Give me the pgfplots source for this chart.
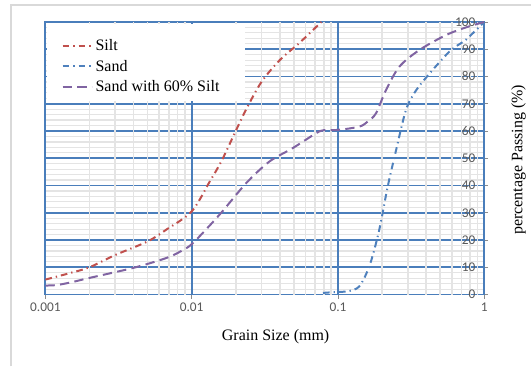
\documentclass[border=0pt]{standalone}
\usepackage{pgfplots}
\pgfplotsset{compat=1.18}
\usepackage{fontspec}
\setmainfont{Liberation Serif}
\newfontfamily\calib{Carlito}
\definecolor{gblue}{HTML}{4A7EBB}
\definecolor{silt}{HTML}{C0504D}
\definecolor{sand}{HTML}{4F81BD}
\definecolor{mix}{HTML}{8064A2}
\definecolor{mgray}{HTML}{E4E4E4}
\definecolor{tgray}{HTML}{595959}
\definecolor{fgray}{HTML}{D9D9D9}
\begin{document}
\begin{tikzpicture}
\path (-34.125pt,-54pt) rectangle (364.875pt,221.25pt);
\draw[fgray, line width=1.2pt] (-25.875pt,-54pt) -- (-25.875pt,217.5pt) -- (364.875pt,217.5pt);
\begin{axis}[
  clip mode=individual,
  at={(0,0)}, anchor=south west,
  scale only axis, width=329.6pt, height=204.75pt,
  xmode=log, xmin=0.001, xmax=1, ymin=0, ymax=100,
  xtick={0.001,0.01,0.1,1}, xticklabels={0.001,0.01,0.1,1},
  ytick={0,10,...,100},
  minor ytick={2,4,6,8,12,14,16,18,22,24,26,28,32,34,36,38,42,44,46,48,52,54,56,58,62,64,66,68,72,74,76,78,82,84,86,88,92,94,96,98},
  yticklabels={},
  ymajorgrids, yminorgrids,
  major grid style={gblue, line width=1.4pt},
  minor grid style={mgray, line width=0.9pt},
  minor tick length=0pt,
  major tick length=3pt,
  tick align=outside,
  xtick pos=bottom, ytick pos=right, yticklabel pos=right,
  tick style={tgray!70, line width=0.6pt},
  axis line style={gblue, line width=1.4pt},
  xticklabel style={font=\calib\fontsize{10}{12}\selectfont, text=tgray},
  xlabel={Grain Size (mm)},
  xlabel style={at={(axis description cs:0.5245,0)}, anchor=center, yshift=-31.5pt, font=\fontsize{12}{14}\selectfont},
  ylabel={percentage Passing (\%)},
  ylabel style={at={(axis description cs:1.078,0.4945)}, anchor=center, font=\fontsize{12}{14}\selectfont},
  legend style={at={(axis description cs:0,1)}, anchor=north west, xshift=9pt, yshift=-9pt, draw=none, fill=none, font=\fontsize{12}{14}\selectfont, row sep=1.5pt},
  legend cell align=left,
  legend image code/.code={\draw[#1] (0pt,0pt) -- (22pt,0pt);},
]
\pgfplotsinvokeforeach{0.002,0.003,0.004,0.005,0.006,0.007,0.008,0.009,0.02,0.03,0.04,0.05,0.06,0.07,0.08,0.09,0.2,0.3,0.4,0.5,0.6,0.7,0.8,0.9}{
  \draw[mgray, line width=1.2pt] (axis cs:#1,0) -- (axis cs:#1,100);
}
\pgfplotsinvokeforeach{0.01,0.1}{
  \draw[gblue, line width=1.4pt] (axis cs:#1,0) -- (axis cs:#1,100);
}
\addplot[silt, line width=1.5pt, smooth, tension=0.5, dash pattern=on 5pt off 3pt on 1pt off 3pt] coordinates {
(0.001,5.5) (0.0015,8) (0.002,10) (0.003,14.5) (0.005,19.5) (0.0067,23.8) (0.01,30.5)
(0.0133,41.5) (0.016,49) (0.02,60) (0.0236,68) (0.03,78) (0.04,86) (0.055,92.5) (0.077,100)
};
\addlegendentry{Silt}
\addplot[sand, line width=1.5pt, smooth, tension=0.5, dash pattern=on 5pt off 3pt on 1pt off 3pt] coordinates {
(0.079,0.6) (0.1,1) (0.117,1.2) (0.14,3) (0.164,10.4) (0.187,21.3) (0.202,29.9) (0.219,39.7)
(0.25,53.1) (0.292,67.8) (0.343,75) (0.444,82.4) (0.593,89.7) (0.75,93.5) (1,100)
};
\addlegendentry{Sand}
\addplot[mix, line width=1.5pt, smooth, tension=0.5, dash pattern=on 7pt off 4pt] coordinates {
(0.001,3.3) (0.0012,3.5) (0.0015,4.5) (0.002,6.1) (0.004,9.8) (0.0067,13.4) (0.0085,16) (0.0102,18.9)
(0.0155,29.3) (0.0236,40.9) (0.034,48.8) (0.049,53.7) (0.071,59.2) (0.08,60.3) (0.1,60.4)
(0.14,61.6) (0.16,63.5) (0.182,66.5) (0.213,75) (0.263,83.6) (0.36,89.7) (0.548,95.2) (0.75,98) (1,100)
};
\addlegendentry{Sand with 60\% Silt}
\fill[white] (axis description cs:0.003,0.994) rectangle (axis description cs:0.454,0.711);
\pgfplotsinvokeforeach{0,10,20,30,40,50,60,70,80,90,100}{
  \node[anchor=east, inner sep=0pt, font=\calib\fontsize{10}{12}\selectfont, text=tgray] at (axis cs:1,#1) [xshift=-6.5pt] {#1};
}
\end{axis}
\end{tikzpicture}
\end{document}
